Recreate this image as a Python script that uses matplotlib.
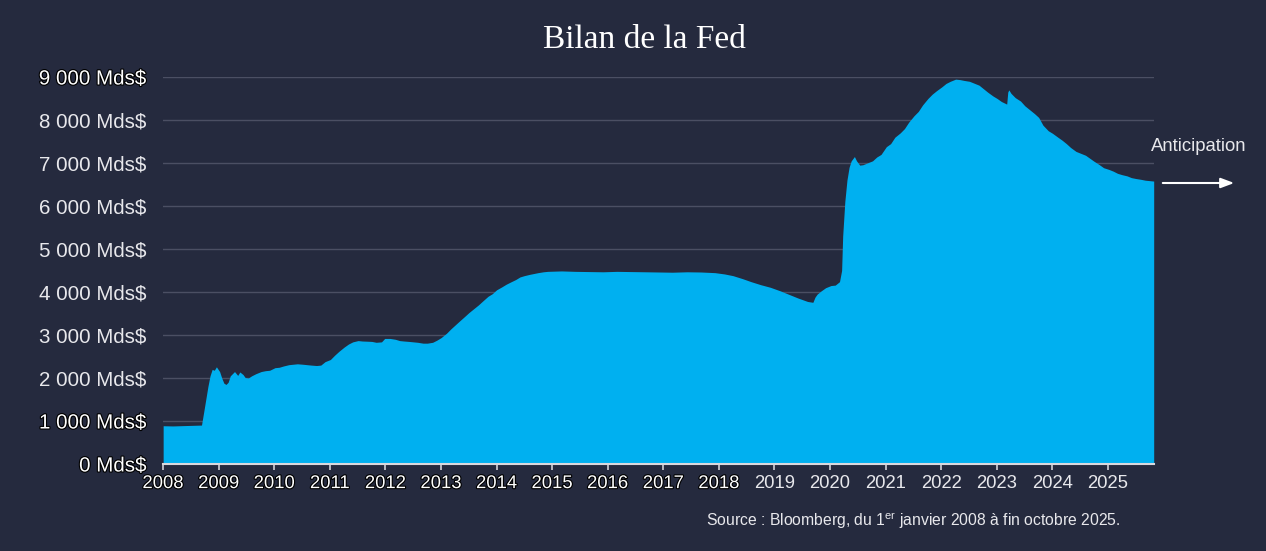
import matplotlib
matplotlib.use("Agg")
import matplotlib.pyplot as plt
import matplotlib.patheffects as pe
import pandas as pd

# Fed balance sheet, billions of USD
dates = [
    "2008-01-02", "2008-03-05", "2008-06-04", "2008-09-10", "2008-09-24", "2008-10-08",
    "2008-10-22", "2008-11-05", "2008-11-19", "2008-12-03", "2008-12-17", "2009-01-07",
    "2009-01-21", "2009-02-04", "2009-02-18", "2009-03-04", "2009-03-18", "2009-04-01",
    "2009-04-15", "2009-05-06", "2009-05-20", "2009-06-10", "2009-06-24", "2009-07-15",
    "2009-08-05", "2009-09-02", "2009-10-07", "2009-11-04", "2009-12-02", "2010-01-06",
    "2010-02-03", "2010-03-03", "2010-04-07", "2010-05-05", "2010-06-02", "2010-07-07",
    "2010-08-04", "2010-09-01", "2010-10-06", "2010-11-03", "2010-12-01", "2011-01-05",
    "2011-02-02", "2011-03-02", "2011-04-06", "2011-05-04", "2011-06-01", "2011-07-06",
    "2011-08-03", "2011-09-07", "2011-10-05", "2011-11-02", "2011-12-07", "2011-12-28",
    "2012-02-01", "2012-03-07", "2012-04-04", "2012-05-02", "2012-06-06", "2012-07-04",
    "2012-08-01", "2012-09-05", "2012-10-03", "2012-11-07", "2012-12-05", "2013-01-02",
    "2013-02-06", "2013-03-06", "2013-04-03", "2013-05-01", "2013-06-05", "2013-07-03",
    "2013-08-07", "2013-09-04", "2013-10-02", "2013-11-06", "2013-12-04", "2014-01-01",
    "2014-02-05", "2014-03-05", "2014-04-02", "2014-05-07", "2014-06-04", "2014-07-02",
    "2014-08-06", "2014-09-03", "2014-10-01", "2014-11-05", "2014-12-03", "2015-03-04",
    "2015-06-03", "2015-09-02", "2015-12-02", "2016-03-02", "2016-06-01", "2016-09-07",
    "2016-12-07", "2017-03-01", "2017-06-07", "2017-09-06", "2017-12-06", "2018-02-07",
    "2018-04-04", "2018-06-06", "2018-08-01", "2018-10-03", "2018-12-05", "2019-02-06",
    "2019-04-03", "2019-06-05", "2019-08-07", "2019-09-11", "2019-09-25", "2019-10-09",
    "2019-11-06", "2019-12-04", "2020-01-08", "2020-02-05", "2020-03-04", "2020-03-18",
    "2020-03-25", "2020-04-08", "2020-04-22", "2020-05-06", "2020-05-20", "2020-06-10",
    "2020-06-24", "2020-07-15", "2020-08-05", "2020-09-02", "2020-10-07", "2020-11-04",
    "2020-12-02", "2021-01-06", "2021-02-03", "2021-03-03", "2021-04-07", "2021-05-05",
    "2021-06-02", "2021-07-07", "2021-08-04", "2021-09-01", "2021-10-06", "2021-11-03",
    "2021-12-01", "2022-01-05", "2022-02-02", "2022-03-02", "2022-04-06", "2022-05-04",
    "2022-06-01", "2022-07-06", "2022-08-03", "2022-09-07", "2022-10-05", "2022-11-02",
    "2022-12-07", "2023-01-04", "2023-02-01", "2023-03-08", "2023-03-15", "2023-03-22",
    "2023-04-05", "2023-05-03", "2023-06-07", "2023-07-05", "2023-08-02", "2023-09-06",
    "2023-10-04", "2023-11-01", "2023-12-06", "2024-01-03", "2024-02-07", "2024-03-06",
    "2024-04-03", "2024-05-01", "2024-06-05", "2024-07-03", "2024-08-07", "2024-09-04",
    "2024-10-02", "2024-11-06", "2024-12-04", "2025-01-08", "2025-02-05", "2025-03-05",
    "2025-04-02", "2025-05-07", "2025-06-04", "2025-07-02", "2025-08-06", "2025-09-03",
    "2025-10-01", "2025-10-29",
]
values = [
    890, 885, 895, 905, 1200, 1500,
    1800, 2050, 2200, 2180, 2260, 2150,
    2000, 1880, 1850, 1900, 2050, 2100,
    2150, 2060, 2140, 2080, 2010, 2000,
    2050, 2100, 2150, 2170, 2180, 2240,
    2250, 2280, 2310, 2320, 2330, 2320,
    2310, 2300, 2290, 2300, 2380, 2430,
    2530, 2620, 2720, 2790, 2840, 2870,
    2860, 2855, 2850, 2830, 2840, 2920,
    2920, 2900, 2870, 2860, 2850, 2840,
    2830, 2810, 2810, 2830, 2880, 2940,
    3040, 3140, 3230, 3320, 3430, 3520,
    3620, 3700, 3790, 3900, 3960, 4050,
    4120, 4180, 4230, 4290, 4350, 4380,
    4410, 4430, 4450, 4470, 4480, 4490,
    4480, 4475, 4470, 4480, 4475, 4470,
    4465, 4460, 4470, 4465, 4450, 4420,
    4380, 4310, 4240, 4170, 4110, 4030,
    3950, 3860, 3780, 3760, 3880, 3950,
    4030, 4100, 4150, 4160, 4240, 4500,
    5300, 6100, 6600, 6900, 7050, 7150,
    7050, 6950, 6960, 7000, 7050, 7140,
    7200, 7380, 7450, 7600, 7700, 7800,
    7950, 8100, 8200, 8350, 8500, 8600,
    8680, 8770, 8850, 8900, 8950, 8940,
    8920, 8900, 8860, 8810, 8730, 8650,
    8560, 8500, 8430, 8370, 8650, 8700,
    8620, 8520, 8440, 8330, 8250, 8150,
    8060, 7880, 7750, 7690, 7600, 7530,
    7450, 7360, 7270, 7230, 7180, 7110,
    7040, 6960, 6890, 6850, 6810, 6760,
    6730, 6700, 6660, 6640, 6620, 6600,
    6590, 6580,
]
y_ticks = [0, 1000, 2000, 3000, 4000, 5000, 6000, 7000, 8000, 9000]
years = list(range(2008, 2026))

BG = "#252a3e"
FILL = "#00b0f0"
TXT = "#e8e8ec"

plt.rcParams["font.family"] = ["Liberation Sans", "DejaVu Sans"]
plt.rcParams["mathtext.fontset"] = "custom"
plt.rcParams["mathtext.rm"] = "Liberation Sans"

x = pd.to_datetime(dates)

fig = plt.figure(figsize=(12.66, 5.51), dpi=100, facecolor=BG)
ax = fig.add_axes([163 / 1266, 1 - 464 / 551, (1154 - 163) / 1266, (464 - 77) / 551])
ax.set_facecolor(BG)

ax.fill_between(x, values, 0, color=FILL, linewidth=0, zorder=2)

ax.set_xlim(pd.Timestamp("2008-01-01"), pd.Timestamp("2025-10-31"))
ax.set_ylim(0, 9000)

# y axis
ax.set_yticks(y_ticks)
ax.set_yticklabels([f"{v:,} Mds$".replace(",", " ") for v in y_ticks])
ax.tick_params(axis="y", length=0, pad=12, labelsize=14.8, labelcolor=TXT)
ax.yaxis.grid(True, color="#4b4f63", linewidth=1)
ax.set_axisbelow(True)

# x axis
ax.set_xticks([pd.Timestamp(f"{y}-01-01") for y in years])
ax.set_xticklabels([str(y) for y in years])
ax.tick_params(axis="x", direction="out", length=4, width=1.2, color="#d0d0d6",
               pad=4, labelsize=13.3, labelcolor=TXT)

for s in ["top", "right", "left"]:
    ax.spines[s].set_visible(False)
ax.spines["bottom"].set_color("#d8d8de")
ax.spines["bottom"].set_linewidth(1.5)
ax.spines["bottom"].set_zorder(3)

# thin black outline seen on some labels in the reference
stroke = [pe.withStroke(linewidth=1.6, foreground="black")]
for lab in ax.get_yticklabels():
    if lab.get_text() in ("0 Mds$", "1 000 Mds$", "9 000 Mds$"):
        lab.set_color("white")
        lab.set_path_effects(stroke)
for lab in ax.get_xticklabels():
    if int(lab.get_text()) <= 2018:
        lab.set_color("white")
        lab.set_path_effects(stroke)

# title
fig.text(0.509, 0.927, "Bilan de la Fed", ha="center", va="center",
         fontsize=24, color="white", family="Liberation Serif")

# anticipation arrow
fig.text(0.947, 0.735, "Anticipation", ha="center", va="center",
         fontsize=13.3, color=TXT)
ax.annotate("", xy=(1237 / 1266, 1 - 183 / 551), xytext=(1160 / 1266, 1 - 183 / 551),
            xycoords="figure fraction", textcoords="figure fraction",
            arrowprops=dict(arrowstyle="-|>,head_length=0.8,head_width=0.3",
                            color="white", lw=1.5))

# source
fig.text(0.885, 0.0545, r"Source : Bloomberg, du 1$^{\mathrm{er}}$ janvier 2008 à fin octobre 2025.",
         ha="right", va="center", fontsize=11.3, color=TXT)

fig.savefig("out.png", dpi=100, facecolor=BG)
